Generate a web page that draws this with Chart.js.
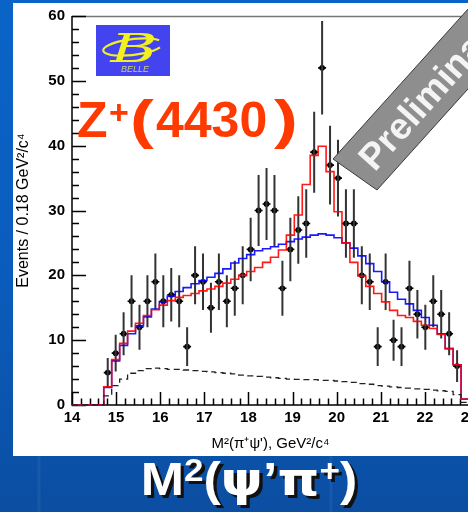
<!DOCTYPE html>
<html><head><meta charset="utf-8">
<script src="https://cdn.jsdelivr.net/npm/chart.js@4/dist/chart.umd.min.js"></script>
<style>
html,body{margin:0;padding:0;width:468px;height:512px;overflow:hidden;}
body{position:relative;background:linear-gradient(180deg,#0a64c8 0%,#0a5cbc 55%,#0b4ea2 100%);}
#stripes{position:absolute;left:0;top:456px;width:468px;height:56px;
 background:linear-gradient(90deg,rgba(255,255,255,0) 37px,rgba(255,255,255,0.05) 38px,rgba(255,255,255,0.05) 40px,rgba(255,255,255,0) 41px,rgba(255,255,255,0) 329px,rgba(255,255,255,0.05) 330px,rgba(255,255,255,0.05) 332px,rgba(255,255,255,0) 333px);}
#panel{position:absolute;left:13px;top:3px;width:470px;height:453px;background:#fff;}
#wrap{position:absolute;left:13px;top:0;width:480px;height:456px;}
#title{position:absolute;left:0;top:456px;width:498px;text-align:center;color:#fff;
 font:bold 46px 'Liberation Sans',Arial,sans-serif;line-height:46px;text-shadow:3px 3px 0 #111;white-space:nowrap;
 transform:scaleX(1.13);transform-origin:249px 0;}
#title sup{font-size:31px;vertical-align:14px;line-height:0;}
#title .g{font-family:'DejaVu Sans',sans-serif;font-size:47px;}
</style>
</head><body>
<div id="stripes"></div>
<div id="panel"></div>
<div id="wrap"><canvas id="c" width="480" height="456"></canvas></div>
<div id="title">M<sup>2</sup>(<span class="g">ψ</span>’<span class="g">π</span><sup>+</sup>)</div>
<script>
// ---- data ----
const binCenters = [14.81,14.99,15.17,15.35,15.53,15.71,15.89,16.07,16.25,16.43,16.61,16.79,16.97,17.15,17.33,17.51,17.69,17.87,18.05,18.23,18.41,18.59,18.77,18.95,19.13,19.31,19.49,19.67,19.85,20.03,20.21,20.39,20.57,20.75,20.93,21.11,21.29,21.47,21.65,21.83,22.01,22.19,22.37,22.55,22.73,22.91];
const binWidth = 0.18;
const counts = [5,8,11,16,12,16,19,16,17,16,9,20,19,15,19,16,18,20,24,30,31,30,18,24,27,28,39,52,37,35,28,28,20,19,9,19,10,9,18,14,12,16,14,11,6];
const fitWithZ = [2.8,7.0,9.5,11.4,12.6,13.8,14.7,15.4,16.1,16.6,16.9,17.2,17.6,17.9,18.3,18.8,19.4,20.0,20.6,21.2,22.0,22.8,23.9,26.2,29.3,34.0,38.5,39.9,36.0,29.8,25.0,22.0,19.9,18.3,17.2,15.9,14.6,13.8,13.5,12.9,12.3,11.8,10.9,8.7,6.2,0.9];
const fitNoZ = [2.7,6.8,9.2,11.0,12.2,13.6,14.8,15.9,16.8,17.5,18.1,18.7,19.2,19.7,20.3,21.0,21.9,22.6,23.2,23.8,24.1,24.4,24.8,25.2,25.6,25.9,26.2,26.4,26.2,25.8,25.0,24.2,23.0,21.8,20.6,19.0,17.4,16.3,15.6,14.6,13.5,12.3,11.0,8.7,6.2,0.9];
const background = [1.4,3.0,4.0,4.9,5.3,5.6,5.7,5.6,5.5,5.5,5.4,5.3,5.2,5.1,5.0,4.9,4.8,4.6,4.5,4.4,4.3,4.2,4.1,4.0,3.95,3.9,3.9,3.8,3.8,3.7,3.6,3.5,3.3,3.2,3.0,2.9,2.8,2.7,2.6,2.5,2.4,2.3,2.2,2.1,1.6,0.4];
const xTickValues = [14,15,16,17,18,19,20,21,22,23];
const yTickValues = [0,10,20,30,40,50,60];
const xTitle = 'M²(π⁺ψ\'), GeV²/c⁴';
const yTitle = 'Events / 0.18 GeV²/c⁴';

// ---- build datasets ----
const half = binWidth / 2;
function histPoints(vals) {
  const pts = [{x: xTickValues[0], y: 0}];
  vals.forEach((v, i) => pts.push({x: binCenters[i] - half, y: v}));
  pts.push({x: binCenters[vals.length - 1] + half, y: vals[vals.length - 1]});
  return pts;
}
const vErr = [], hErr = [], pts = [];
counts.forEach((n, i) => {
  const c = binCenters[i], e = Math.sqrt(n);
  vErr.push({x: c, y: n - e}, {x: c, y: n + e}, {x: c, y: null});
  hErr.push({x: c - half, y: n}, {x: c + half, y: n}, {x: c, y: null});
  pts.push({x: c, y: n});
});

const axesPlugin = {
  id: 'rootAxes',
  beforeDatasetsDraw(chart) {
    const {ctx, chartArea: a, scales: {x, y}} = chart;
    ctx.save();
    ctx.lineWidth = 1.5;
    ctx.strokeStyle = '#777';
    ctx.beginPath(); ctx.moveTo(a.left, a.top + 0.5); ctx.lineTo(a.right + 20, a.top + 0.5); ctx.stroke();
    ctx.strokeStyle = '#000';
    ctx.beginPath(); ctx.moveTo(a.left, a.top); ctx.lineTo(a.left, a.bottom); ctx.lineTo(a.right + 20, a.bottom); ctx.stroke();
    const yMin = yTickValues[0], yMax = yTickValues[yTickValues.length - 1];
    for (let k = 0; k <= (yMax - yMin) / 2; k++) {
      const v = yMin + k * 2, py = Math.round(y.getPixelForValue(v)) + 0.5;
      const len = (k % 5 === 0) ? 14 : 7;
      ctx.beginPath(); ctx.moveTo(a.left, py); ctx.lineTo(a.left + len, py); ctx.stroke();
    }
    const xMin = xTickValues[0], xMax = xTickValues[xTickValues.length - 1];
    for (let k = 0; k <= (xMax - xMin) * 5; k++) {
      const v = xMin + k * 0.2, px = Math.round(x.getPixelForValue(v)) + 0.5;
      const len = (k % 5 === 0) ? 13 : 6.5;
      ctx.beginPath(); ctx.moveTo(px, a.bottom); ctx.lineTo(px, a.bottom - len); ctx.stroke();
    }
    ctx.restore();
  }
};

function wideText(ctx, txt, x, y, sx) {
  ctx.save(); ctx.translate(x, y); ctx.scale(sx, 1); ctx.fillText(txt, 0, 0); ctx.restore();
}

const overlayPlugin = {
  id: 'overlay',
  afterDatasetsDraw(chart) {
    const ctx = chart.ctx;
    const ox = -13; // canvas is offset 13px from page
    ctx.save();
    // BELLE logo
    ctx.fillStyle = '#4343f0';
    ctx.fillRect(96 + ox, 25, 74, 51);
    ctx.strokeStyle = '#f2f020'; ctx.lineWidth = 2.2;
    ctx.beginPath(); ctx.ellipse(133 + ox, 47, 30, 8, -0.12, 0.15 * Math.PI, 1.85 * Math.PI); ctx.stroke();
    ctx.fillStyle = '#f2f020';
    ctx.save(); ctx.translate(134 + ox, 62); ctx.scale(1.6, 1);
    ctx.font = 'italic 40px "DejaVu Serif", serif'; ctx.textAlign = 'center'; ctx.textBaseline = 'alphabetic';
    ctx.fillText('B', 0, 0); ctx.restore();
    ctx.fillStyle = '#cfcf78'; ctx.font = 'italic 9px "Liberation Sans", Arial, sans-serif';
    ctx.textAlign = 'center'; ctx.fillText('BELLE', 135 + ox, 72);
    // Z+(4430)
    ctx.fillStyle = '#ff3a00'; ctx.textAlign = 'left'; ctx.textBaseline = 'alphabetic';
    ctx.font = 'bold 50px "Liberation Sans", Arial, sans-serif';
    ctx.fillText('Z', 77 + ox, 137);
    ctx.font = 'bold 34px "Liberation Sans", Arial, sans-serif';
    ctx.fillText('+', 109 + ox, 124);
    ctx.font = 'bold 53px "Liberation Sans", Arial, sans-serif';
    wideText(ctx, '(', 130 + ox, 138, 1.35);
    ctx.font = 'bold 50px "Liberation Sans", Arial, sans-serif';
    ctx.fillText('4430', 156 + ox, 137);
    ctx.font = 'bold 53px "Liberation Sans", Arial, sans-serif';
    wideText(ctx, ')', 274 + ox, 138, 1.35);
    // Preliminary banner
    const ang = -48 * Math.PI / 180;
    const d = [Math.cos(ang), Math.sin(ang)], n = [-d[1], d[0]];
    const A = [333 + ox, 159], B = [377 + ox, 190], L = 320;
    ctx.fillStyle = '#8e8e8e'; ctx.strokeStyle = '#3a3a3a'; ctx.lineWidth = 1;
    ctx.beginPath();
    ctx.moveTo(A[0], A[1]); ctx.lineTo(B[0], B[1]);
    ctx.lineTo(B[0] + L * d[0], B[1] + L * d[1]); ctx.lineTo(A[0] + L * d[0], A[1] + L * d[1]);
    ctx.closePath(); ctx.fill(); ctx.stroke();
    ctx.save();
    ctx.translate(A[0] + 18 * d[0] + 40 * n[0], A[1] + 18 * d[1] + 40 * n[1]);
    ctx.rotate(ang);
    ctx.fillStyle = '#f4f4f4'; ctx.font = 'bold 37px "Liberation Sans", Arial, sans-serif';
    ctx.textAlign = 'left'; ctx.textBaseline = 'alphabetic';
    ctx.fillText('Preliminary', 0, 0);
    ctx.restore();
    ctx.restore();
  }
};

const fontTick = {family: "'Liberation Sans', Arial, sans-serif", size: 15, weight: 'bold'};
new Chart(document.getElementById('c'), {
  type: 'line',
  data: {
    datasets: [
      {label: 'background', data: histPoints(background), stepped: 'before', borderColor: '#222', borderWidth: 1.3, borderDash: [6, 4], pointRadius: 0, fill: false, clip: 6},
      {label: 'fit with Z', data: histPoints(fitWithZ), stepped: 'before', borderColor: 'rgba(255,0,0,0.9)', borderWidth: 1.6, pointRadius: 0, fill: false, clip: 6},
      {label: 'fit without Z', data: histPoints(fitNoZ), stepped: 'before', borderColor: 'rgba(0,0,255,0.9)', borderWidth: 1.6, pointRadius: 0, fill: false, clip: 6},
      {label: 'vErr', data: vErr, borderColor: '#333', borderWidth: 2, pointRadius: 0, spanGaps: false, clip: 6},
      {label: 'hErr', data: hErr, borderColor: '#000', borderWidth: 1.6, pointRadius: 0, spanGaps: false, clip: 6},
      {label: 'data', data: pts, showLine: false, pointRadius: 2.9, pointBackgroundColor: '#000', pointBorderColor: '#000', pointBorderWidth: 0, clip: 6}
    ]
  },
  options: {
    responsive: false, animation: false, events: [],
    layout: {padding: {top: 10, right: 24, left: 0, bottom: 0}},
    plugins: {legend: {display: false}, tooltip: {enabled: false}},
    scales: {
      x: {
        type: 'linear', min: xTickValues[0], max: xTickValues[xTickValues.length - 1],
        afterFit: s => { s.height = 51; },
        afterBuildTicks: s => { s.ticks = xTickValues.map(v => ({value: v})); },
        grid: {display: false, drawTicks: false}, border: {display: false},
        ticks: {color: '#000', font: fontTick, padding: 4, maxRotation: 0, autoSkip: false},
        title: {display: true, text: xTitle, color: '#000', font: {family: "'Liberation Sans', Arial, sans-serif", size: 15}, padding: {top: 0, bottom: 3}}
      },
      y: {
        min: yTickValues[0], max: yTickValues[yTickValues.length - 1],
        afterFit: s => { s.width = 59; },
        afterBuildTicks: s => { s.ticks = yTickValues.map(v => ({value: v})); },
        grid: {display: false, drawTicks: false}, border: {display: false},
        ticks: {color: '#000', font: fontTick, padding: 7, autoSkip: false},
        title: {display: true, text: yTitle, color: '#000', font: {family: "'Liberation Sans', Arial, sans-serif", size: 16}, padding: {top: 1, bottom: 0}}
      }
    }
  },
  plugins: [axesPlugin, overlayPlugin]
});
</script>
</body></html>
